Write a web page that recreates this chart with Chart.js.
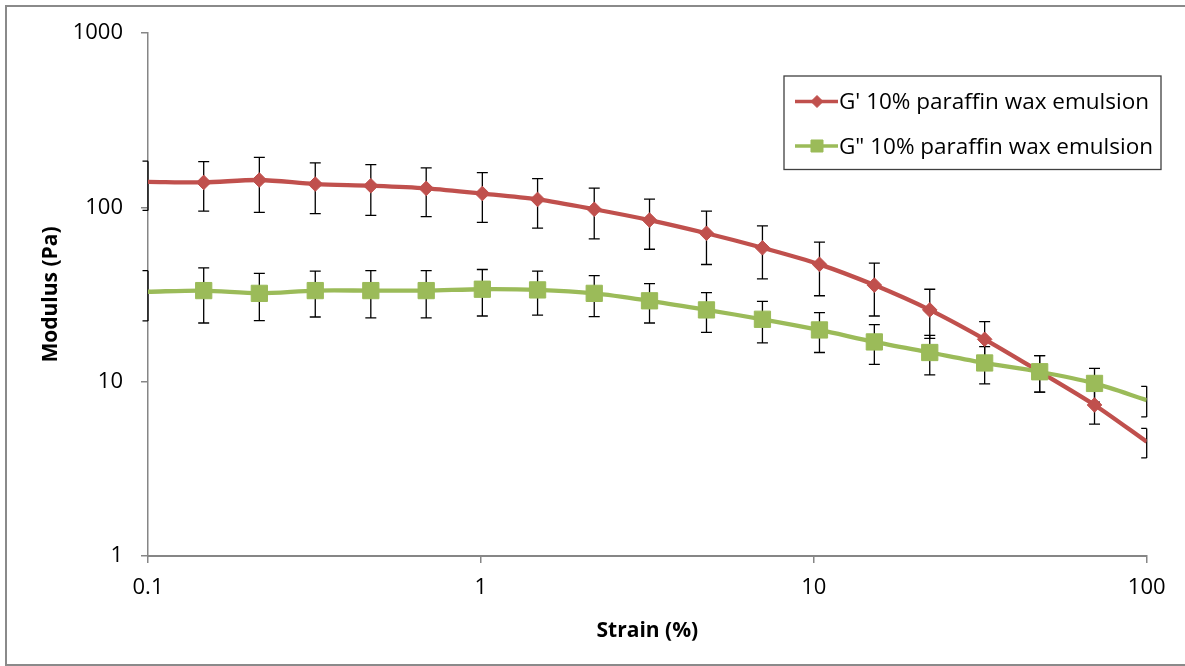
<!DOCTYPE html>
<html>
<head>
<meta charset="utf-8">
<script src="https://cdn.jsdelivr.net/npm/chart.js@4.4.1/dist/chart.umd.min.js"></script>
<style>
  html, body { margin: 0; padding: 0; background: #fff; overflow: hidden; }
  #frame { position: absolute; left: 5px; top: 5px; width: 1200px; height: 661px;
           box-sizing: border-box; border: 2px solid #8a8a8a; }
  #c { position: absolute; left: 0; top: 0; }
</style>
</head>
<body>
<div id="frame"></div>
<canvas id="c" width="1185" height="666"></canvas>
<script>
// Strain amplitude sweep (%)
const strain = [0.1, 0.147, 0.216, 0.318, 0.467, 0.685, 1.01, 1.48, 2.19, 3.21, 4.76, 7.01, 10.4, 15.2, 22.3, 32.6, 47.7, 69.7, 100];

// Storage modulus G' (Pa) and its standard deviation
const gStorage   = [140, 139, 143.5, 136, 133, 128.5, 120, 111, 97.5, 84.5, 71, 58.6, 47.1, 35.8, 25.8, 17.5, 11.4, 7.35, 4.52];
const gStorageSD = [44, 44, 50, 44, 43, 40, 38, 35, 31.5, 27, 24, 19.7, 16, 12, 8.1, 4.6, 2.7, 1.64, 0.87];

// Loss modulus G" (Pa) and its standard deviation
const gLoss   = [32.8, 33.3, 32.1, 33.3, 33.3, 33.3, 33.9, 33.6, 32.1, 29.1, 25.8, 22.8, 19.8, 16.9, 14.7, 12.8, 11.4, 9.77, 7.84];
const gLossSD = [10.5, 11.6, 9.7, 9.8, 10.1, 10.1, 10.1, 9.5, 8.5, 7.4, 6.6, 6.1, 5.1, 4.35, 3.75, 3.1, 2.7, 2.15, 1.56];

const seriesNames = ["G' 10% paraffin wax emulsion", 'G" 10% paraffin wax emulsion'];

const xTicks = [0.1, 1, 10, 100];
const xTickLabels = ['0.1', '1', '10', '100'];
const yTicks = [1, 10, 100, 1000];
const yTickLabels = ['1', '10', '100', '1000'];
const xTitle = 'Strain (%)';
const yTitle = 'Modulus (Pa)';

const FONT = '"Open Sans"';
const RED = '#C0504D';
const GREEN = '#9BBB59';

const toPoints = (ys) => strain.map((x, i) => ({ x: x, y: ys[i] }));
const lastIdx = strain.length - 1;
const edgeHidden = (r) => (ctx) => (ctx.dataIndex === 0 || ctx.dataIndex === lastIdx) ? 0 : r;

// Vertical error bars (± SD) drawn underneath the series
const errorBars = {
  id: 'errorBars',
  beforeDatasetsDraw(chart) {
    const { ctx } = chart;
    const ys = chart.scales.y;
    ctx.save();
    ctx.strokeStyle = '#000';
    ctx.lineWidth = 1.3;
    chart.data.datasets.forEach((ds, i) => {
      const meta = chart.getDatasetMeta(i);
      meta.data.forEach((pt, j) => {
        const v = ds.data[j].y, e = ds.sd[j];
        const x = pt.x;
        const yTop = ys.getPixelForValue(v + e);
        const yBot = ys.getPixelForValue(v - e);
        const edge = j === 0 || j === meta.data.length - 1;
        const capL = x - 5.5, capR = edge ? x : x + 5.5;
        ctx.beginPath();
        ctx.moveTo(x, yTop); ctx.lineTo(x, yBot);
        ctx.moveTo(capL, yTop); ctx.lineTo(capR, yTop);
        ctx.moveTo(capL, yBot); ctx.lineTo(capR, yBot);
        ctx.stroke();
      });
    });
    ctx.restore();
  }
};

// Boxed legend in the upper right of the plot
const boxLegend = {
  id: 'boxLegend',
  afterDraw(chart) {
    const { ctx } = chart;
    const box = { x: 784, y: 76, w: 377, h: 93.5 };
    ctx.save();
    ctx.fillStyle = '#fff';
    ctx.fillRect(box.x, box.y, box.w, box.h);
    ctx.strokeStyle = '#404040';
    ctx.lineWidth = 1.3;
    ctx.strokeRect(box.x, box.y, box.w, box.h);
    const rows = [101.5, 146];
    const styles = [
      { color: RED, style: 'rectRot', radius: 6 },
      { color: GREEN, style: 'rect', radius: 8.5 }
    ];
    rows.forEach((ry, i) => {
      const s = styles[i];
      ctx.strokeStyle = s.color;
      ctx.lineWidth = 3.5;
      ctx.beginPath();
      ctx.moveTo(795, ry); ctx.lineTo(838, ry);
      ctx.stroke();
      ctx.fillStyle = s.color;
      ctx.lineWidth = 1;
      Chart.helpers.drawPoint(ctx, { pointStyle: s.style, radius: s.radius, borderWidth: 1 }, 817, ry);
      ctx.fillStyle = '#000';
      ctx.font = '22.5px ' + FONT;
      ctx.textBaseline = 'middle';
      ctx.textAlign = 'left';
      ctx.fillText(seriesNames[i], 839, ry + 1.5);
    });
    ctx.restore();
  }
};

const axisFont = { family: FONT, size: 22 };
const titleFont = { family: FONT, size: 21, weight: 'bold' };

new Chart(document.getElementById('c'), {
  type: 'line',
  data: {
    datasets: [
      {
        label: seriesNames[0],
        data: toPoints(gStorage),
        sd: gStorageSD,
        borderColor: RED,
        backgroundColor: RED,
        borderWidth: 4.3,
        tension: 0.3,
        pointStyle: 'rectRot',
        pointRadius: edgeHidden(7.3),
        pointBorderWidth: 1,
        pointBackgroundColor: RED,
        pointBorderColor: RED,
        order: 1
      },
      {
        label: seriesNames[1],
        data: toPoints(gLoss),
        sd: gLossSD,
        borderColor: GREEN,
        backgroundColor: GREEN,
        borderWidth: 4.3,
        tension: 0.3,
        pointStyle: 'rect',
        pointRadius: edgeHidden(11.5),
        pointBorderWidth: 1,
        pointBackgroundColor: GREEN,
        pointBorderColor: GREEN,
        order: 0
      }
    ]
  },
  options: {
    responsive: false,
    animation: false,
    events: [],
    layout: { padding: { left: 0, top: 33, right: 38.3, bottom: 0 } },
    plugins: { legend: { display: false }, tooltip: { enabled: false } },
    scales: {
      x: {
        type: 'logarithmic',
        position: 'bottom',
        min: 0.1, max: 100,
        afterBuildTicks: (s) => { s.ticks = xTicks.map(v => ({ value: v })); },
        afterFit: (s) => { s.height = 110; },
        ticks: {
          callback: (v, i) => xTickLabels[i],
          color: '#000', font: axisFont, padding: 12, maxRotation: 0, autoSkip: false
        },
        grid: { drawOnChartArea: false, drawTicks: true, tickLength: 7, color: '#868686', lineWidth: 1.5 },
        border: { display: true, color: '#868686', width: 2 },
        title: { display: true, text: xTitle, color: '#000', font: titleFont, padding: { top: 0, bottom: 22 } }
      },
      y: {
        type: 'logarithmic',
        position: 'left',
        min: 1, max: 1000,
        afterBuildTicks: (s) => { s.ticks = yTicks.map(v => ({ value: v })); },
        afterFit: (s) => { s.width = 148; },
        ticks: {
          callback: (v, i) => yTickLabels[i],
          color: '#000', font: axisFont, padding: 18, autoSkip: false
        },
        grid: { drawOnChartArea: false, drawTicks: true, tickLength: 7, color: '#868686', lineWidth: 1.5 },
        border: { display: true, color: '#868686', width: 1.5 },
        title: { display: true, text: yTitle, color: '#000', font: titleFont, padding: { top: 38, bottom: 0 } }
      }
    }
  },
  plugins: [errorBars, boxLegend]
});
</script>
</body>
</html>
